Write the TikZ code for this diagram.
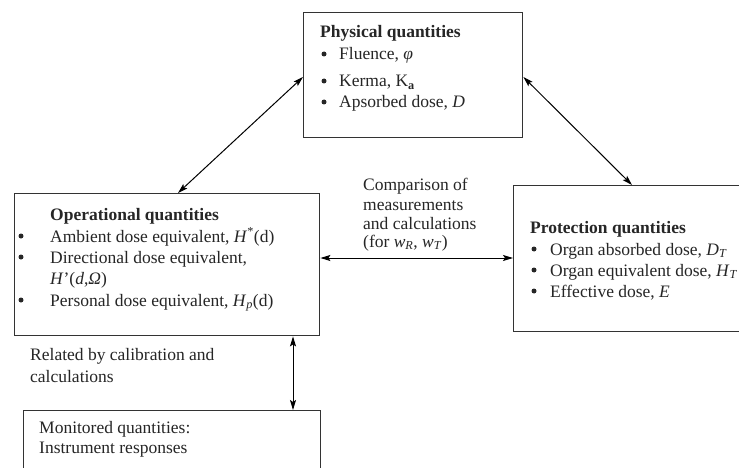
\documentclass[tikz,border=0pt]{standalone}
\usepackage{fontspec}
\setmainfont{Liberation Serif}
\usetikzlibrary{arrows.meta,calc}
\tikzset{
  box/.style={draw=black!80, line width=1.4pt, inner sep=0pt, anchor=north west},
  txt/.style={anchor=base west, inner sep=0pt, font=\fontsize{17.5}{21}\selectfont, text=black!85},
  bul/.style={circle, fill=black!85, inner sep=0pt, minimum size=5pt, yshift=6pt},
  arr/.style={line width=1pt, {Stealth[length=10pt,width=6pt,inset=2pt]}-{Stealth[length=10pt,width=6pt,inset=2pt]}}
}
\begin{document}
\begin{tikzpicture}[x=1pt,y=-1pt]
\clip (0,0) rectangle (739,468);
\fill[white] (0,0) rectangle (739,468);
% boxes
\node[box, minimum width=219pt, minimum height=125pt] (phys) at (303,12) {};
\node[box, minimum width=305pt, minimum height=142pt] (op) at (14,193) {};
\node[box, minimum width=240pt, minimum height=146pt] (prot) at (513,185) {};
\node[box, minimum width=297pt, minimum height=80pt] (mon) at (23,410) {};
% physical quantities
\node[txt] (p0) at (320,38) {\textbf{Physical quantities}};
\node[bul] (pb1) at (324,60) {};
\node[txt] (p1) at (339,60) {Fluence, \textit{φ}};
\node[bul] (pb2) at (324,87) {};
\node[txt] (p2) at (339,87) {Kerma, K\textsubscript{\textbf{a}}};
\node[bul] (pb3) at (324,108) {};
\node[txt] (p3) at (339,108) {Apsorbed dose, \textit{D}};
% operational quantities
\node[txt] (o0) at (50,220) {\textbf{Operational quantities}};
\node[bul] (ob1) at (21,242) {};
\node[txt] (o1) at (50,242) {Ambient dose equivalent, \textit{H}\textsuperscript{*}(d)};
\node[bul] (ob2) at (21,263) {};
\node[txt] (o2) at (50,263) {Directional dose equivalent,};
\node[txt] (o3) at (50,284) {\textit{H}'(\textit{d},\textit{Ω})};
\node[bul] (ob3) at (21,306) {};
\node[txt] (o4) at (50,306) {Personal dose equivalent, \textit{H}\textsubscript{\textit{p}}(d)};
% protection quantities
\node[txt] (r0) at (530,233) {\textbf{Protection quantities}};
\node[bul] (rb1) at (534,255) {};
\node[txt] (r1) at (550,255) {Organ absorbed dose, \textit{D}\textsubscript{\textit{T}}};
\node[bul] (rb2) at (534,276) {};
\node[txt] (r2) at (550,276) {Organ equivalent dose, \textit{H}\textsubscript{\textit{T}}};
\node[bul] (rb3) at (534,297) {};
\node[txt] (r3) at (550,297) {Effective dose, \textit{E}};
% comparison
\node[txt] (c1) at (363,190) {Comparison of};
\node[txt] (c2) at (363,210) {measurements};
\node[txt] (c3) at (363,229) {and calculations};
\node[txt] (c4) at (363,247) {(for \textit{w}\textsubscript{\textit{R}}, \textit{w}\textsubscript{\textit{T}})};
% related
\node[txt] (l1) at (30,360) {Related by calibration and};
\node[txt] (l2) at (30,382) {calculations};
% monitored
\node[txt] (m1) at (39,433) {Monitored quantities:};
\node[txt] (m2) at (39,453) {Instrument responses};
% connectors
\draw[arr] ($(phys.north west)+(0,65)$) -- ($(op.north west)+(164,0)$);
\draw[arr] ($(phys.north east)+(0,65)$) -- ($(prot.north west)+(119,0)$);
\draw[arr] ($(op.north east)+(0,65)$) -- ($(prot.north west)+(0,73)$);
\draw[arr] ($(op.south west)+(279,0)$) -- ($(mon.north west)+(270,0)$);
\end{tikzpicture}
\end{document}
